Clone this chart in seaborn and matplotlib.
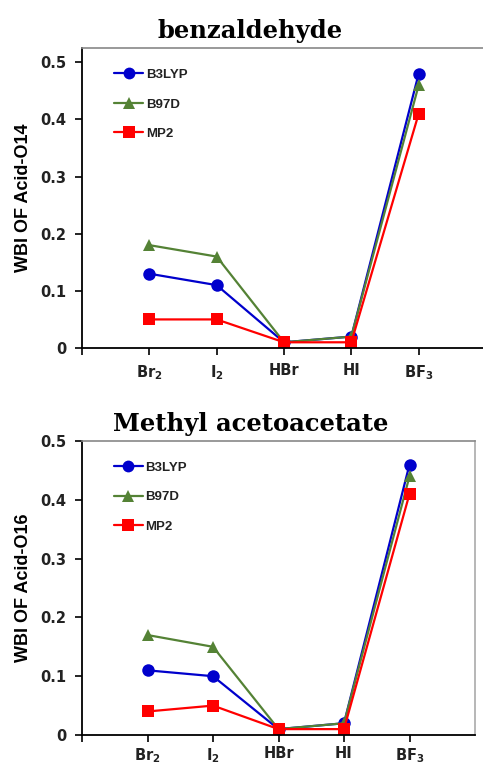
import matplotlib
matplotlib.use("Agg")
import matplotlib.pyplot as plt
import seaborn as sns
import pandas as pd
import numpy as np

sns.set_style("white")
plt.rcParams['font.family'] = ['DejaVu Sans']
plt.rcParams['mathtext.fontset'] = 'custom'
plt.rcParams['mathtext.rm'] = 'DejaVu Sans:bold'
plt.rcParams['mathtext.bf'] = 'DejaVu Sans:bold'
plt.rcParams['mathtext.default'] = 'bf'

categories = ["Br$_2$", "I$_2$", "HBr", "HI", "BF$_3$"]
methods = ["B3LYP", "B97D", "MP2"]

benz_b3lyp = [0.13, 0.11, 0.01, 0.02, 0.48]
benz_b97d = [0.18, 0.16, 0.01, 0.02, 0.46]
benz_mp2 = [0.05, 0.05, 0.01, 0.01, 0.41]

meth_b3lyp = [0.11, 0.10, 0.01, 0.02, 0.46]
meth_b97d = [0.17, 0.15, 0.01, 0.02, 0.44]
meth_mp2 = [0.04, 0.05, 0.01, 0.01, 0.41]

yticks = [0, 0.1, 0.2, 0.3, 0.4, 0.5]
ytick_labels = ["0", "0.1", "0.2", "0.3", "0.4", "0.5"]

palette = {"B3LYP": "#0000CC", "B97D": "#548235", "MP2": "#FF0000"}
markers = {"B3LYP": "o", "B97D": "^", "MP2": "s"}


def make_df(series):
    rows = []
    for m, vals in zip(methods, series):
        for i, v in enumerate(vals):
            rows.append({"pos": i, "val": v, "method": m})
    return pd.DataFrame(rows)


fig = plt.figure(figsize=(4.83, 7.66), dpi=100)
W, H = 483, 766


def px_axes(left, top, right, bottom):
    return fig.add_axes([left / W, 1 - bottom / H, (right - left) / W, (bottom - top) / H])


ax1 = px_axes(82, 48, 486, 348)
ax2 = px_axes(82, 441, 475, 735)


def draw(ax, series, ylim_top, ylabel, title, right_visible, xpad):
    df = make_df(series)
    sns.lineplot(data=df, x="pos", y="val", hue="method", style="method",
                 palette=palette, markers=markers, dashes=False,
                 markersize=9, linewidth=1.6, markeredgewidth=0,
                 ax=ax, legend=False)
    ax.set_xlim(-1, 5)
    ax.set_ylim(0, ylim_top)
    ax.set_xticks([-1] + list(range(len(categories))))
    ax.set_xticklabels([""] + categories, fontsize=10.5, fontweight="bold", color="#222222")
    ax.set_yticks(yticks)
    ax.set_yticklabels(ytick_labels, fontsize=10.5, fontweight="bold", color="#222222")
    ax.tick_params(axis="both", direction="out", length=5, width=1.2, color="black",
                   bottom=True, left=True, pad=6)
    ax.tick_params(axis="x", pad=xpad)
    ax.set_xlabel("")
    ax.set_ylabel(ylabel, fontsize=13, fontweight="bold", family="Liberation Sans",
                  labelpad=6, color="black")
    for s in ["left", "bottom"]:
        ax.spines[s].set_color("black")
        ax.spines[s].set_linewidth(1.3)
    ax.spines["top"].set_color("#888888")
    ax.spines["top"].set_linewidth(1.2)
    ax.spines["right"].set_color("#AAAAAA")
    ax.spines["right"].set_linewidth(1.2)
    ax.spines["right"].set_visible(right_visible)
    handles = [plt.Line2D([], [], color=palette[m], marker=markers[m], markersize=8.5,
                          linewidth=1.6, markeredgewidth=0) for m in methods]
    leg = ax.legend(handles, methods, loc="upper left", bbox_to_anchor=(0.05, 0.97),
                    frameon=False, prop={"family": "Liberation Sans", "weight": "bold", "size": 9.5},
                    labelspacing=1.3, handlelength=2.2, handletextpad=0.2)
    for t in leg.get_texts():
        t.set_color("#222222")
    ax.set_title(title, fontsize=17.5, fontweight="bold", family="DejaVu Serif",
                 pad=7, color="black")


draw(ax1, [benz_b3lyp, benz_b97d, benz_mp2], 0.525, "WBI OF Acid-O14", "benzaldehyde", False, 6)
draw(ax2, [meth_b3lyp, meth_b97d, meth_mp2], 0.5, "WBI OF Acid-O16", "Methyl acetoacetate", True, 3)

ax1.title.set_position((0.416, 1.0))
ax2.title.set_position((0.43, 1.0))

fig.savefig("out.png", dpi=100)
